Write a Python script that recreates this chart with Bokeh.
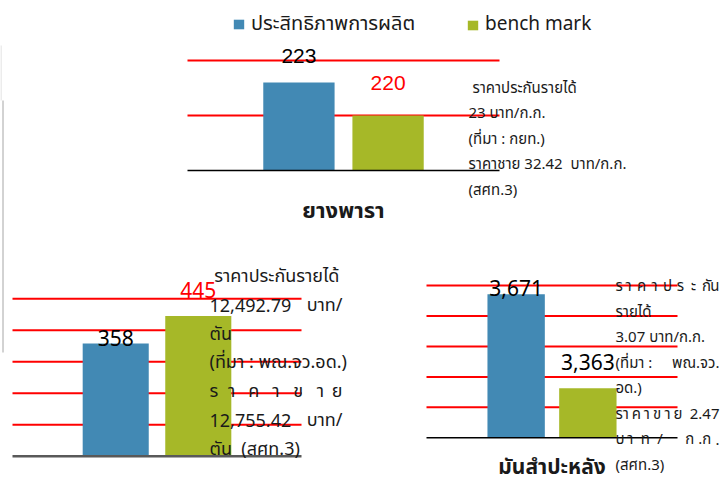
from bokeh.plotting import figure
from bokeh.models import Range1d, Legend, LegendItem
from bokeh.core.properties import value
from bokeh.embed import file_html
from bokeh.resources import INLINE

# ---------------- data ----------------
series_names = ["ประสิทธิภาพการผลิต", "bench mark"]
panel_names = ["ยางพารา", None, "มันสำปะหลัง"]          # rice label lies below the picture
efficiency = [223, 358, 3671]
benchmark = [220, 445, 3363]
axis_ticks = [
    [215, 220, 225],
    [0, 100, 200, 300, 400, 500],
    [3200, 3300, 3400, 3500, 3600, 3700],
]
notes_rubber = [
    ["\u00a0ราคาประกันรายได้"],
    ["23 บาท/ก.ก."],
    ["(ที่มา : กยท.)"],
    ["ราคาชาย 32.42\u00a0\u00a0บาท/ก.ก."],
    ["(สศท.3)"],
]
notes_rice = [
    ["\u00a0ราคาประกันรายได้"],
    ["12,492.79", "บาท/"],
    ["ตัน"],
    ["(ที่มา : พณ.จว.อด.)"],
    ["ร", "า", "ค", "า", "ข", "า", "ย"],
    ["12,755.42", "บาท/"],
    ["ตัน\u00a0\u00a0(สศท.3)"],
]
notes_cassava = [
    ["ร", "า", "ค", "า", "ป", "ร", "ะ", "กั", "น"],
    ["รายได้"],
    ["3.07 บาท/ก.ก."],
    ["(ที่มา :", "พณ.จว."],
    ["อด.)"],
    ["ร", "า", "ค", "า", "ข", "า", "ย", "", "", "", "2.47"],
    ["บ", "า", "ท", "/", "", "ก", ".ก", "."],
    ["(สศท.3)"],
]

# ---------------- layout / style ----------------
W, H = 724, 485
BLUE, GREEN = "#4289B4", "#A6B828"
THAI = "Tahoma, 'Noto Sans Thai', 'Noto Sans', sans-serif"
XLO, XHI = -1.25, 2.25
frames = [(187, 499, 60, 170), (12, 301, 298.3, 455.7), (426, 677, 285, 437.3)]  # L, R, T, B (px)
label_offsets = [(-26.5, -32.5), (-5.5, -26.5), (-6, -26.5)]
label_colors = [("black", "red"), ("black", "red"), ("black", "black")]
label_fonts = ["Liberation Sans", "Noto Sans", "Noto Sans"]
base_colors = ["black", "#595959", "black"]
base_widths = [1.5, 2.5, 1.5]
cat_offsets = [41, 41, 30]
cat_sizes = ["22px", "22px", "21px"]
notes_blocks = [
    (notes_rubber, 468, 630, 88, 25.4, "15px"),
    (notes_rice, 209, 342, 276, 28.8, "18px"),
    (notes_cassava, 615, 719, 286, 25.5, "15px"),
]

p = figure(width=W, height=H, output_backend="svg", toolbar_location=None,
           x_range=Range1d(0, W), y_range=Range1d(H, 0),
           x_axis_type=None, y_axis_type=None, min_border=0,
           outline_line_color=None, background_fill_color="white")
p.grid.visible = False

# remnants of slide frame at the left edge
p.segment(x0=[0.5], x1=[0.5], y0=[45], y1=[100], line_color="#D9D9D9", line_width=1)
p.segment(x0=[2.5], x1=[2.5], y0=[100], y1=[352], line_color="#A6A6A6", line_width=1)

legend_renderers = []
for k in range(3):
    L, R, T, B = frames[k]
    ticks = axis_ticks[k]
    ylo, yhi = ticks[0], ticks[-1]
    sx = (XHI - XLO) / (R - L)
    sy = (yhi - ylo) / (B - T)
    xr, yr = f"px{k}", f"py{k}"
    p.extra_x_ranges[xr] = Range1d(XLO - L * sx, XHI + (W - R) * sx)
    p.extra_y_ranges[yr] = Range1d(ylo - (H - B) * sy, yhi + T * sy)
    kw = dict(x_range_name=xr, y_range_name=yr)

    # red grid lines
    p.segment(x0=[XLO] * (len(ticks) - 1), x1=[XHI] * (len(ticks) - 1),
              y0=ticks[1:], y1=ticks[1:], line_color="#FF0000", line_width=2, **kw)
    # bars
    rb = p.vbar(x=[0], top=[efficiency[k]], bottom=ylo, width=0.8,
                fill_color=BLUE, line_color=None, **kw)
    rg = p.vbar(x=[1], top=[benchmark[k]], bottom=ylo, width=0.8,
                fill_color=GREEN, line_color=None, **kw)
    if k == 0:
        legend_renderers = [rb, rg]
    # baseline
    p.segment(x0=[XLO], x1=[XHI], y0=[ylo], y1=[ylo],
              line_color=base_colors[k], line_width=base_widths[k], **kw)
    # value labels
    for j, v in enumerate([efficiency[k], benchmark[k]]):
        p.text(x=[j], y=[v], text=[f"{v:,}"], text_align="center",
               text_baseline="alphabetic", y_offset=label_offsets[k][j],
               text_color=label_colors[k][j], text_font=value(label_fonts[k]),
               text_font_size="21px", **kw)
    # category label
    if panel_names[k]:
        p.text(x=[(XLO + XHI) / 2], y=[ylo], text=[panel_names[k]], text_align="center",
               text_baseline="alphabetic", y_offset=cat_offsets[k],
               text_color="#1A1A1A", text_font=value(THAI), text_font_style="bold",
               text_font_size=cat_sizes[k], **kw)

# notes
for lines, xl, xr_, base0, pitch, size in notes_blocks:
    groups = {"left": ([], [], []), "center": ([], [], []), "right": ([], [], [])}
    for i, toks in enumerate(lines):
        y = base0 + i * pitch
        n = len(toks)
        for t, tok in enumerate(toks):
            if not tok:
                continue
            if n == 1:
                x, a = xl, "left"
            else:
                x = xl + t * (xr_ - xl) / (n - 1)
                a = "left" if t == 0 else ("right" if t == n - 1 else "center")
            g = groups[a]
            g[0].append(x); g[1].append(y); g[2].append(tok)
    for a, (xs, ys, ts) in groups.items():
        if xs:
            p.text(x=xs, y=ys, text=ts, text_align=a, text_baseline="alphabetic",
                   text_color="#1A1A1A", text_font=value(THAI), text_font_size=size)

# legend (two single-item legends)
leg_pos = [(232, 446), (466, 446)]
leg_size = ["20px", "19px"]
for j in range(2):
    leg = Legend(items=[LegendItem(label=series_names[j], renderers=[legend_renderers[j]])],
                 location=leg_pos[j], orientation="horizontal", padding=0, margin=0,
                 spacing=0, glyph_width=13, glyph_height=12, label_standoff=6,
                 label_text_font=THAI, label_text_font_size=leg_size[j],
                 label_text_color="#1A1A1A", border_line_alpha=0,
                 background_fill_alpha=0)
    p.add_layout(leg, "center")

open("out.html", "w").write(file_html(p, INLINE))
